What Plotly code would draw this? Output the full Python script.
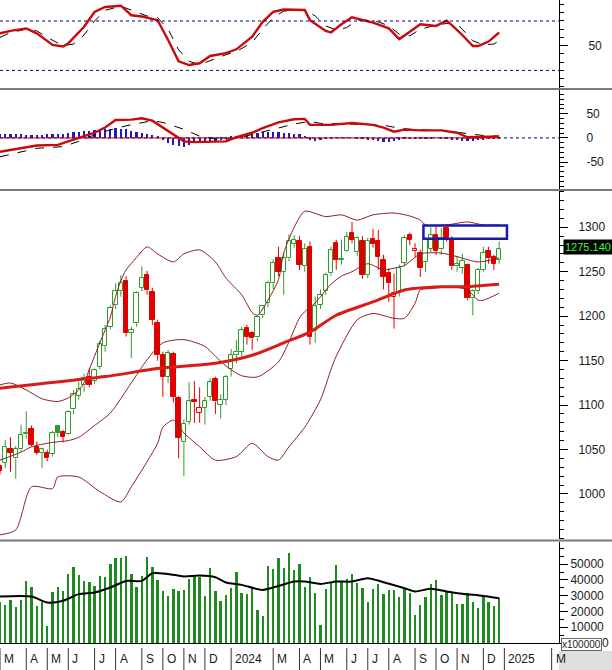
import plotly.graph_objects as go
import pandas as pd

# ---------------- data (weekly bars) ----------------
WEEKS = pd.date_range("2023-02-27", periods=96, freq="7D").strftime("%Y-%m-%d").tolist()

OPEN = [1031, 1035, 1050, 1040, 1050, 1067, 1073, 1053, 1046, 1046,
        1045, 1076, 1070, 1067, 1095, 1110, 1122, 1131, 1127, 1143,
        1166, 1188, 1212, 1228, 1239, 1181, 1192, 1232, 1246, 1227,
        1192, 1156, 1132, 1157, 1108, 1058, 1081, 1106, 1091, 1097,
        1109, 1129, 1100, 1106, 1140, 1156, 1160, 1187, 1181, 1176,
        1201, 1215, 1237, 1265, 1250, 1265, 1281, 1284, 1256, 1278,
        1183, 1213, 1228, 1248, 1282, 1263, 1273, 1294, 1272, 1285,
        1246, 1287, 1285, 1263, 1248, 1222, 1226, 1260, 1291, 1273,
        1271, 1261, 1276, 1291, 1275, 1299, 1287, 1256, 1254, 1258,
        1220, 1228, 1252, 1273, 1266, 1263]
HIGH = [1033, 1061, 1064, 1054, 1078, 1093, 1077, 1059, 1052, 1050,
        1071, 1078, 1072, 1094, 1117, 1126, 1135, 1141, 1141, 1172,
        1190, 1212, 1237, 1246, 1245, 1188, 1228, 1256, 1251, 1232,
        1196, 1160, 1162, 1160, 1110, 1084, 1126, 1127, 1120, 1109,
        1130, 1132, 1112, 1134, 1163, 1173, 1188, 1190, 1183, 1201,
        1212, 1240, 1264, 1278, 1270, 1292, 1291, 1290, 1282, 1284,
        1222, 1230, 1249, 1278, 1286, 1286, 1295, 1306, 1290, 1290,
        1288, 1298, 1297, 1269, 1254, 1248, 1258, 1291, 1294, 1282,
        1275, 1288, 1300, 1301, 1299, 1301, 1290, 1268, 1270, 1259,
        1230, 1254, 1278, 1278, 1269, 1284]
LOW = [1022, 1029, 1025, 1017, 1048, 1062, 1053, 1044, 1029, 1037,
       1042, 1064, 1058, 1066, 1090, 1106, 1115, 1120, 1124, 1140,
       1160, 1185, 1208, 1222, 1177, 1153, 1188, 1228, 1224, 1190,
       1150, 1109, 1125, 1103, 1040, 1020, 1078, 1080, 1080, 1078,
       1105, 1090, 1085, 1100, 1132, 1147, 1155, 1168, 1162, 1172,
       1198, 1210, 1230, 1245, 1224, 1262, 1277, 1252, 1250, 1168,
       1170, 1208, 1224, 1245, 1252, 1258, 1272, 1282, 1268, 1242,
       1243, 1277, 1252, 1230, 1216, 1186, 1222, 1256, 1280, 1266,
       1244, 1250, 1272, 1269, 1269, 1284, 1252, 1250, 1248, 1218,
       1201, 1225, 1250, 1259, 1252, 1259]
CLOSE = [1026, 1053, 1046, 1051, 1066, 1069, 1055, 1046, 1050, 1040,
         1068, 1069, 1064, 1092, 1112, 1118, 1130, 1123, 1139, 1169,
         1186, 1209, 1228, 1237, 1181, 1184, 1226, 1243, 1229, 1196,
         1156, 1132, 1158, 1109, 1063, 1079, 1104, 1103, 1097, 1104,
         1126, 1104, 1106, 1132, 1156, 1160, 1184, 1177, 1175, 1199,
         1211, 1237, 1260, 1250, 1265, 1285, 1286, 1258, 1276, 1177,
         1211, 1224, 1246, 1274, 1263, 1264, 1289, 1286, 1288, 1246,
         1285, 1281, 1267, 1244, 1237, 1226, 1254, 1288, 1286, 1276,
         1254, 1286, 1291, 1273, 1288, 1287.5, 1256, 1259, 1262, 1220,
         1228, 1252, 1271, 1265, 1259, 1275.14]
VOLUME = [26000, 24240, 27400, 22550, 27400, 39640, 35840, 23610, 25720, 11100,
          32260, 35840, 33310, 43850, 48490, 43430, 39640, 38580, 36260, 42600,
          42200, 50220, 54230, 54230, 55280, 43850, 35840, 42600, 54860, 48490,
          40060, 33310, 29940, 34360, 33310, 33730, 40480, 42200, 42200, 29940,
          47440, 33100, 26350, 30570, 34790, 45120, 32050, 31200, 35420, 21070,
          17280, 48910, 46800, 53810, 47440, 57400, 46380, 50220, 35840, 42150,
          32030, 11580, 34170, 37970, 49570, 39660, 40500, 43880, 37970, 34800,
          25930, 34170, 37340, 31220, 33750, 33750, 29110, 34800, 32030, 17900,
          24240, 29110, 37550, 40080, 30580, 32270, 31640, 24880, 24880, 32030,
          26330, 22100, 29910, 26330, 23580, 28440]

# indicator lines: week index -> value
BB_UP_W = [0, 2, 5, 8, 11, 13, 15, 16, 17, 19, 21, 22, 23, 24, 26, 28, 30, 33, 35, 38,
           41, 43, 46, 48, 49, 51, 53, 54, 56, 58, 62, 65, 68, 71, 75, 78, 80, 81, 85, 89, 92, 95]
BB_UP = [1122.6, 1124.8, 1117, 1107, 1104, 1108, 1117, 1125, 1140, 1170, 1199, 1222, 1240, 1252,
         1266, 1278, 1270, 1261, 1270, 1274.5, 1261, 1243, 1224, 1204, 1201, 1218, 1241, 1271,
         1300, 1318, 1312, 1314, 1308, 1314, 1316, 1312.7, 1308, 1302.6, 1302.6, 1306, 1302.6, 1302.6]
BB_MID_W = [0, 4, 6, 10, 13, 15, 18, 21, 25, 28, 31, 35, 39, 41, 43, 46, 49, 53, 55, 57,
            58, 60, 63, 65, 67, 70, 73, 75, 77, 80, 84, 87, 91, 95]
BB_MID = [1038, 1047, 1053, 1058, 1060, 1063.7, 1077, 1091, 1125, 1151, 1170, 1173.6, 1166, 1155,
          1144, 1133, 1131.6, 1148.5, 1171, 1198, 1205, 1215, 1236, 1245, 1250, 1259, 1252, 1254,
          1257, 1270, 1271, 1267, 1261, 1265.5]
BB_LO_W = [0, 3, 6, 10, 11, 15, 19, 23, 25, 30, 31, 33, 35, 38, 41, 45, 48, 51, 53, 55,
           58, 61, 63, 64, 68, 71, 75, 77, 79, 80, 82, 86, 89, 91, 92, 95]
BB_LO = [954, 959.5, 1008, 1006, 1019, 1019, 1002.6, 991, 1008, 1057, 1075, 1083, 1068.6, 1053,
         1038, 1042, 1057, 1042, 1038, 1053, 1075, 1106, 1140, 1155, 1196, 1203, 1197.6, 1197.6,
         1214.5, 1229.5, 1231, 1233, 1229.5, 1218, 1218, 1225.7]
MA_W = [0, 20, 30, 41, 48, 54, 59, 64, 71, 77, 84, 88, 95]
MA = [1119, 1132, 1141, 1147, 1156, 1170, 1182, 1201, 1216, 1229.5, 1233, 1233, 1236]

VOL_MA_W = [0, 6, 9, 12, 15, 18, 21, 24, 27, 29, 32, 35, 38, 41, 43, 46, 50, 53, 56, 58,
            61, 64, 67, 70, 73, 77, 79, 82, 85, 88, 92, 95]
VOL_MA = [29500, 29500, 25700, 26800, 31000, 32000, 35200, 39400, 39400, 44300,
          43800, 42200, 42800, 41700, 38400, 36900, 33700, 36200, 39000, 39000,
          37500, 39000, 39000, 41100, 38600, 34800, 32700, 34400, 32700, 31200, 29900, 28400]

STK_W = [0, 2, 5, 7, 10, 12, 13, 16, 18, 20, 23, 25, 27, 30, 32, 34, 36, 38, 40, 43,
         45, 48, 50, 52, 54, 58, 59, 62, 63, 65, 67, 69, 71, 74, 76, 78, 80, 83, 85, 86,
         88, 90, 91, 93, 95]
STK = [65, 68, 71, 65, 51, 49, 53, 73, 91, 97, 98.6, 87, 85.5, 81, 57, 31, 26.5, 28.6, 37.5, 41,
       45.6, 61, 79, 91, 94, 93.4, 81, 68, 66, 76, 84.5, 81, 78, 71, 58, 67, 76, 74, 80.4, 75,
       63, 49.6, 49.6, 55, 66]
STD_W = [0, 2, 5, 7, 9, 12, 14, 16, 18, 20, 23, 26, 28, 30, 32, 34, 36, 38, 40, 43,
         45, 48, 50, 52, 54, 58, 60, 62, 64, 66, 68, 70, 72, 74, 76, 78, 80, 83, 85, 87,
         88, 90, 92, 94, 95]
STD = [60, 66, 70, 68, 60, 50, 52, 63, 80, 93, 98, 91, 86, 84, 70, 45, 31, 27, 32, 39,
       43, 54, 70, 84, 92, 94, 86, 74, 69, 72, 81, 81, 79, 74, 64, 62, 70, 75, 77, 76,
       70, 56, 51, 52, 56]

MACD_W = [0, 4, 7, 11, 15, 18, 20, 22, 25, 27, 29, 31, 33, 35, 37, 41, 43, 45, 48, 50,
          53, 56, 58, 59, 63, 67, 71, 73, 75, 77, 80, 84, 87, 89, 91, 95]
MACD = [-28.6, -21.4, -15.7, -14.3, 0, 10.7, 21.4, 37, 37.9, 40.7, 35.7, 21.4, 7.1, -7.1, -8.6,
        -8.6, -7.1, 1.4, 10.7, 20, 32, 38.6, 39.3, 27, 27, 30.7, 27, 21.4, 12.9, 17.1, 15.7,
        15.7, 10.7, 1.4, 2.1, 2.9]
SIG_W = [0, 7, 12, 15, 19, 24, 29, 31, 35, 38, 42, 45, 48, 52, 56, 59, 61, 67, 73, 76,
         79, 84, 88, 92, 95]
SIG = [-39, -21.4, -17.9, -7.1, 10.7, 25, 35.7, 32, 17.9, 3.6, -3.6, -1.4, 7.1, 17.9, 28.6,
       34.3, 30, 28.6, 26.4, 20, 17.1, 15.7, 10.7, 5, 3.6]
HIST = [8, 8, 8, 8, 8, 7, 7, 7, 7, 8, 8, 8, 9,
        11, 12, 13, 14, 15, 16, 17,
        18, 19, 20, 19, 18,
        14, 12, 10, 8, 6,
        2,
        -5, -10, -14,
        -17, -18, -15,
        -11, -9, -8, -7, -6, -4,
        -1, 2,
        5, 7, 9, 10, 11, 12, 13, 13, 12, 11, 10, 9, 8,
        4,
        -4, -6, -5, -3, -1,
        0.5, 1, 0.5, 0,
        -2, -3, -4, -5, -6, -8, -8, -6, -4,
        -2, -2, -1, -1, -2, -1,
        0, -1, -2,
        -4, -5, -6, -7, -6, -5, -4, -3,
        -2, -2]

MONTH_POS = [0, 5, 9, 13, 18, 22, 27, 31, 35, 39, 44, 52, 57, 61, 66, 70, 74, 79, 83, 87, 92, 96, 105]
MONTH_LBL = ['M', 'A', 'M', 'J', 'J', 'A', 'S', 'O', 'N', 'D', '2024', 'M', 'A', 'M', 'J', 'J',
             'A', 'S', 'O', 'N', 'D', '2025', 'M']

BOX_W = [80.6, 96.5]
BOX_P = [1287, 1302]

PRICE_TICKS = [1000, 1050, 1100, 1150, 1200, 1250, 1300]
VOL_TICKS = [10000, 20000, 30000, 40000, 50000]
MACD_TICKS = [-50, 0, 50]
STO_TICKS = [50]

# ---------------- styling ----------------
IDX = list(range(len(CLOSE)))
XR = [0.0, 106.4]
GREEN = '#2f9b2f'
RED = '#e10000'
BAND = '#8e1f1f'
FONT = 'Liberation Sans, Arial, sans-serif'
PH = 643.0  # plot-area height in px

def py(px):
    return (PH - px) / PH

fig = go.Figure()

# ---- price panel: candles ----
groups = {}
for i in IDX:
    prev = CLOSE[i - 1] if i > 0 else OPEN[i]
    col = GREEN if CLOSE[i] > prev else RED
    hollow = CLOSE[i] >= OPEN[i]
    groups.setdefault((col, hollow), []).append(i)

for (col, hollow), ids in groups.items():
    base = [min(OPEN[i], CLOSE[i]) for i in ids]
    hgt = [max(abs(CLOSE[i] - OPEN[i]), 1.0) for i in ids]
    fig.add_trace(go.Bar(x=ids, y=hgt, base=base, width=0.84,
                         marker=dict(color='white' if hollow else col,
                                     line=dict(color=col, width=1)),
                         xaxis='x3', yaxis='y3', hoverinfo='skip'))

for col in (GREEN, RED):
    xs, ys = [], []
    for (c, h), ids in groups.items():
        if c != col:
            continue
        for i in ids:
            top = max(OPEN[i], CLOSE[i])
            bot = min(OPEN[i], CLOSE[i])
            xs += [i, i, None, i, i, None]
            ys += [top, HIGH[i], None, LOW[i], bot, None]
    fig.add_trace(go.Scatter(x=xs, y=ys, mode='lines', line=dict(color=col, width=1),
                             xaxis='x3', yaxis='y3', hoverinfo='skip'))

def add_line(w, v, color, width, xa, ya, dash=None, shape='spline'):
    fig.add_trace(go.Scatter(x=w, y=v, mode='lines',
                             line=dict(color=color, width=width, dash=dash, shape=shape,
                                       smoothing=0.7 if shape == 'spline' else None),
                             xaxis=xa, yaxis=ya, hoverinfo='skip'))

add_line(BB_UP_W, BB_UP, BAND, 1, 'x3', 'y3')
add_line(BB_MID_W, BB_MID, BAND, 1, 'x3', 'y3')
add_line(BB_LO_W, BB_LO, BAND, 1, 'x3', 'y3')
add_line(MA_W, MA, '#d81b1b', 3, 'x3', 'y3')

# ---- stochastic panel ----
add_line(STD_W, STD, 'black', 1, 'x', 'y', dash='dash', shape='linear')
add_line(STK_W, STK, '#c80a0a', 2.4, 'x', 'y', shape='linear')

# ---- MACD panel ----
fig.add_trace(go.Bar(x=IDX, y=HIST, width=0.42, marker=dict(color='#1c1cb8', line=dict(width=0)),
                     xaxis='x2', yaxis='y2', hoverinfo='skip'))
fig.add_trace(go.Scatter(x=[IDX[0], IDX[-1]], y=[0, 0], mode='lines',
                         line=dict(color='#d00000', width=1), xaxis='x2', yaxis='y2', hoverinfo='skip'))
add_line(SIG_W, SIG, 'black', 1, 'x2', 'y2', dash='dash', shape='linear')
add_line(MACD_W, MACD, '#c80a0a', 2.4, 'x2', 'y2', shape='linear')

# ---- volume panel ----
fig.add_trace(go.Bar(x=IDX, y=VOLUME, width=0.45, marker=dict(color='#1f8a1f', line=dict(width=0)),
                     xaxis='x4', yaxis='y4', hoverinfo='skip'))
add_line(VOL_MA_W, VOL_MA, 'black', 2, 'x4', 'y4')

# ---------------- axes ----------------
def xax(anchor, line=False):
    return dict(domain=[0, 1], range=XR, anchor=anchor, showgrid=False, zeroline=False,
                showticklabels=False, ticks='', showline=line, linecolor='black', linewidth=1)

def yax(dom, rng, vals, minor_dt, standoff, anchor, fsize=12):
    return dict(domain=dom, range=rng, anchor=anchor, side='right', showgrid=False, zeroline=False,
                showline=True, linecolor='black', linewidth=1,
                tickmode='array', tickvals=vals, ticktext=[str(v) for v in vals],
                ticks='outside', ticklen=8, tickcolor='black',
                ticklabelstandoff=standoff,
                tickfont=dict(family=FONT, size=fsize, color='#1a1a1a'),
                minor=dict(tickmode='linear', tick0=0, dtick=minor_dt, ticks='outside',
                           ticklen=4, tickcolor='black', showgrid=False))

fig.update_layout(
    width=612, height=670, margin=dict(l=0, r=53, t=0, b=27),
    paper_bgcolor='white', plot_bgcolor='white', showlegend=False,
    barmode='overlay', bargap=0,
    font=dict(family=FONT, size=12, color='#1a1a1a'),
    xaxis=xax('y'), xaxis2=xax('y2'), xaxis3=xax('y3'), xaxis4=xax('y4', line=True),
    yaxis=yax([py(88), 1], [-1.4, 105.5], STO_TICKS, 10, 18, 'x'),
    yaxis2=yax([py(189), py(90)], [-105.5, 99], MACD_TICKS, 10, 16, 'x2'),
    yaxis3=yax([py(539), py(191)], [949.3, 1340.8], PRICE_TICKS, 10, 8, 'x3'),
    yaxis4=yax([0, py(542)], [0, 64100], VOL_TICKS, 5000, 0, 'x4'),
)

shapes = []
for lvl in (80, 20):
    shapes.append(dict(type='line', xref='x domain', yref='y', x0=0, x1=1, y0=lvl, y1=lvl,
                       line=dict(color='#000080', width=1, dash='dot')))
shapes.append(dict(type='line', xref='x2 domain', yref='y2', x0=0, x1=1, y0=0, y1=0,
                   line=dict(color='#000080', width=1, dash='dot'), layer='below'))
shapes.append(dict(type='rect', xref='x3', yref='y3', x0=BOX_W[0], x1=BOX_W[1],
                   y0=BOX_P[0], y1=BOX_P[1], line=dict(color='#1a1aa8', width=2.5)))
for ypx in (89, 190, 540.5):
    shapes.append(dict(type='line', xref='paper', yref='paper', x0=0, x1=612 / 559,
                       y0=py(ypx), y1=py(ypx), line=dict(color='#7a7a7a', width=2)))
for m in MONTH_POS:
    shapes.append(dict(type='line', xref='x4', yref='paper', x0=m, x1=m,
                       y0=py(648), y1=py(670), line=dict(color='#333333', width=1)))
shapes.append(dict(type='rect', xref='paper', yref='paper', x0=1.0, x1=612 / 559,
                   y0=py(651), y1=py(671), fillcolor='#dedede', line=dict(width=0)))

annotations = []
for m, lbl in zip(MONTH_POS, MONTH_LBL):
    annotations.append(dict(x=m, y=py(659), xref='x4', yref='paper', text=lbl, showarrow=False,
                            xanchor='left', yanchor='middle', xshift=2,
                            font=dict(family=FONT, size=12, color='#1a1a1a')))
annotations.append(dict(x=563 / 559, y=CLOSE[-1], xref='paper', yref='y3',
                        text=f"{CLOSE[-1]:.3f}", showarrow=False, xanchor='left',
                        yanchor='middle', yshift=2, bgcolor='black', borderpad=1,
                        font=dict(family=FONT, size=11, color='#3cff3c')))
annotations.append(dict(x=561 / 559, y=0, xref='paper', yref='y4', text='x100000',
                        showarrow=False, xanchor='left', yanchor='middle', yshift=-1,
                        bgcolor='white', bordercolor='#666666', borderwidth=1, borderpad=0,
                        font=dict(family=FONT, size=10, color='#1a1a1a')))
annotations.append(dict(x=600 / 559, y=0, xref='paper', yref='y4', text='0',
                        showarrow=False, xanchor='left', yanchor='middle',
                        font=dict(family=FONT, size=12, color='#1a1a1a')))

fig.update_layout(shapes=shapes, annotations=annotations)

fig.write_html("out.html")
